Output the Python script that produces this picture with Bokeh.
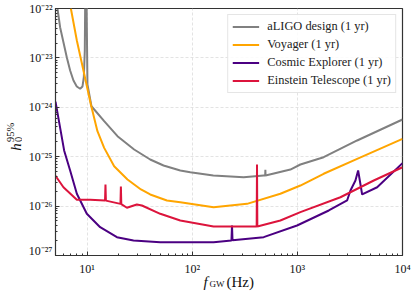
import math
from bokeh.plotting import figure
from bokeh.layouts import column, row
from bokeh.models import (Range1d, FixedTicker, CustomJSTickFormatter, Legend,
                          LegendItem, Label)
from bokeh.core.properties import value
from bokeh.embed import file_html
from bokeh.resources import INLINE

# ---------------- data ----------------
aligo_f = [5.0, 5.22, 5.53, 5.95, 6.40, 6.89, 7.41, 7.97, 8.58, 9.03, 9.30, 9.50,
           9.57, 9.65, 9.80, 9.89, 10.07, 10.99, 14.52, 19.44, 28.0, 39.8, 53.3,
           76.9, 95.7, 158.5, 308, 478, 494, 496, 498, 858, 1068, 1778, 3704, 10000]
aligo_h = [1.9e-22, 1e-22, 4.19e-23, 2.08e-23, 1.03e-23, 5.56e-24, 3.49e-24, 2.64e-24,
           2.37e-24, 2.64e-24, 4.06e-24, 1.41e-23, 1e-22, 1e-21, 1e-21, 1e-22,
           2.90e-24, 1.05e-24, 5.24e-25, 2.60e-25, 1.40e-25, 8.77e-26, 6.64e-26,
           5.26e-26, 4.86e-26, 4.16e-26, 3.85e-26, 4.16e-26, 4.17e-26, 5.43e-26,
           4.18e-26, 5.5e-26, 6.95e-26, 9.77e-26, 2.13e-25, 5.66e-25]

voyager_f = [7.0, 7.98, 9.22, 10.85, 12.53, 14.52, 18.07, 24.2, 32.5, 39.8, 57.4,
             76.9, 159.5, 332, 689, 1068, 1778, 3704, 10000]
voyager_h = [1e-22, 2.25e-23, 5.56e-24, 1.14e-24, 3.28e-25, 1.51e-25, 6.43e-26,
             3.45e-26, 2.17e-26, 1.72e-26, 1.30e-26, 1.20e-26, 9.5e-27, 1.11e-26,
             1.78e-26, 2.61e-26, 4.51e-26, 9.06e-26, 2.30e-25]

ce_f = [5.0, 6.04, 6.89, 7.98, 9.93, 13.3, 19.2, 27.6, 49.6, 76.9, 159.5, 236,
        238.8, 241.5, 478, 993, 1990, 2972, 3198, 3567, 3784, 4132, 5741, 10000]
ce_h = [1.3e-24, 1.34e-25, 5.26e-26, 1.78e-26, 6.98e-27, 3.74e-27, 2.35e-27,
        2.01e-27, 1.86e-27, 1.86e-27, 1.86e-27, 2.02e-27, 4.05e-27, 2.03e-27,
        2.35e-27, 4.05e-27, 8.15e-27, 1.30e-26, 2.07e-26, 3.3e-26, 5.26e-26,
        1.72e-26, 2.41e-26, 7.38e-26]

et_f = [5.0, 5.95, 7.98, 10.68, 14.8, 14.94, 15.08, 20.75, 20.94, 21.13, 23.9,
        29.7, 33.2, 49.6, 76.9, 159.5, 410, 413, 416, 689, 1068, 2568, 5330, 10000]
et_h = [4.1e-26, 2.41e-26, 1.34e-26, 1.34e-26, 1.30e-26, 2.73e-26, 1.29e-26,
        1.11e-26, 2.5e-26, 1.10e-26, 9.25e-27, 1.08e-26, 1.03e-26, 6.98e-27,
        5.12e-27, 3.86e-27, 3.86e-27, 6.95e-26, 3.86e-27, 5.12e-27, 7.54e-27,
        1.51e-26, 3.3e-26, 6.12e-26]

series_names = ["aLIGO design (1 yr)", "Voyager (1 yr)",
                "Cosmic Explorer (1 yr)", "Einstein Telescope (1 yr)"]
series_colors = ["#808080", "#FFA500", "#4B0082", "#DC143C"]

x_ticks = [1e1, 1e2, 1e3, 1e4]
x_tick_labels = ["10¹", "10²", "10³", "10⁴"]
y_ticks = [1e-27, 1e-26, 1e-25, 1e-24, 1e-23, 1e-22]
y_tick_labels = ["10⁻²⁷", "10⁻²⁶", "10⁻²⁵", "10⁻²⁴", "10⁻²³", "10⁻²²"]

X_MIN, X_MAX = 5, 1e4
Y_MIN, Y_MAX = 1e-27, 1e-22

FONT = "Liberation Serif"
TXT = "#111111"

# ---------------- geometry ----------------
TOTAL_W, TOTAL_H = 415, 291
YSTRIP_W = 22
MAIN_H = 257
BL, BR, BT, BB = 33, 13, 8, 2          # borders of the main figure
MAIN_W = TOTAL_W - YSTRIP_W
FRAME_W = MAIN_W - BL - BR
XSTRIP_H = TOTAL_H - MAIN_H

# ---------------- main figure ----------------
p = figure(width=MAIN_W, height=MAIN_H, x_axis_type="log", y_axis_type="log",
           x_range=Range1d(X_MIN, X_MAX), y_range=Range1d(Y_MIN, Y_MAX),
           output_backend="svg", toolbar_location=None,
           min_border_left=BL, min_border_right=BR, min_border_top=BT,
           min_border_bottom=BB)

x_minor = [m * 10 ** e for e in range(0, 4) for m in range(2, 10) if X_MIN <= m * 10 ** e <= X_MAX]
y_minor = [m * 10.0 ** e for e in range(-27, -22) for m in range(2, 10)]
p.xaxis.ticker = FixedTicker(ticks=x_ticks, minor_ticks=x_minor)
p.yaxis.ticker = FixedTicker(ticks=y_ticks, minor_ticks=y_minor)

fmt_code = """
const lt = Math.log10(tick);
for (let i = 0; i < vals.length; i++) {
  if (Math.abs(Math.log10(vals[i]) - lt) < 1e-6) return labs[i];
}
return '';
"""
p.yaxis.formatter = CustomJSTickFormatter(args=dict(vals=y_ticks, labs=y_tick_labels), code=fmt_code)

for ax in (p.xaxis, p.yaxis):
    ax.major_label_text_font = FONT
    ax.major_label_text_color = TXT
    ax.major_tick_in = 4
    ax.major_tick_out = 0
    ax.minor_tick_in = 2
    ax.minor_tick_out = 0
    ax.axis_line_color = "#333333"
    ax.major_tick_line_color = "#333333"
    ax.minor_tick_line_color = "#333333"
p.yaxis.major_label_text_font_size = "12px"
p.yaxis.major_label_standoff = 3
# x tick labels are drawn in the strip below (so the axis title can sit close)
p.xaxis.major_label_text_font_size = "1px"
p.xaxis.major_label_text_alpha = 0
p.xaxis.major_label_standoff = 0

p.outline_line_color = "#333333"
p.outline_line_width = 1.2
p.grid.grid_line_color = "#dcdcdc"
p.grid.grid_line_dash = "3 2"
p.grid.grid_line_width = 0.8

renderers = []
for fx, hy, col in ((aligo_f, aligo_h, series_colors[0]),
                    (voyager_f, voyager_h, series_colors[1]),
                    (ce_f, ce_h, series_colors[2]),
                    (et_f, et_h, series_colors[3])):
    renderers.append(p.line(fx, hy, line_color=col, line_width=2))

legend = Legend(items=[LegendItem(label=n, renderers=[r]) for n, r in zip(series_names, renderers)],
                location="top_right")
legend.label_text_font = FONT
legend.label_text_font_size = "12.4px"
legend.label_text_color = "#222222"
legend.glyph_width = 27
legend.glyph_height = 13
legend.label_height = 13
legend.spacing = 3
legend.padding = 4
legend.margin = 6
legend.label_standoff = 8
legend.border_line_color = "#cccccc"
legend.border_line_width = 1
legend.background_fill_alpha = 0.85
p.add_layout(legend)

# ---------------- strips holding tick labels / axis titles ----------------
def strip(w, h, xr, yr, x_type="linear"):
    f = figure(width=w, height=h, x_range=xr, y_range=yr, x_axis_type=x_type,
               output_backend="svg", toolbar_location=None, min_border=0,
               x_axis_location=None, y_axis_location=None)
    f.outline_line_color = None
    f.grid.visible = False
    return f

# left strip: y axis title  h_0^{95%}   (data units = pixels from bottom-left)
yfig = strip(YSTRIP_W, MAIN_H, Range1d(0, YSTRIP_W), Range1d(0, MAIN_H))
ycommon = dict(x_units="data", y_units="data", text_font=FONT, text_color=TXT,
               text_baseline="alphabetic", text_align="left", angle=math.pi / 2)
yfig.add_layout(Label(x=15, y=MAIN_H - 148, text="h", text_font_style="italic",
                      text_font_size="15px", **ycommon))
yfig.add_layout(Label(x=17.5, y=MAIN_H - 139, text="0", text_font_size="10.5px", **ycommon))
yfig.add_layout(Label(x=10, y=MAIN_H - 139, text="95%", text_font_size="10.5px", **ycommon))

# bottom strip: shares the log x mapping of the main frame, extended to the strip edges
k = (math.log10(X_MAX) - math.log10(X_MIN)) / FRAME_W
frame_left = YSTRIP_W + BL
xs_lo = 10 ** (math.log10(X_MIN) - frame_left * k)
xs_hi = 10 ** (math.log10(X_MAX) + (TOTAL_W - frame_left - FRAME_W) * k)
xfig = strip(TOTAL_W, XSTRIP_H, Range1d(xs_lo, xs_hi), Range1d(0, XSTRIP_H), x_type="log")
xfig.text(x=x_ticks, y=XSTRIP_H - 11, text=x_tick_labels, text_font=value(FONT),
          text_font_size="12px", text_color=TXT, text_align="center",
          text_baseline="alphabetic")

xcommon = dict(x_units="screen", y_units="data", text_font=FONT, text_color=TXT,
               text_baseline="alphabetic", text_align="left")
xfig.add_layout(Label(x=203, y=10, text="f", text_font_style="italic",
                      text_font_size="15px", **xcommon))
xfig.add_layout(Label(x=209, y=7.5, text="GW", text_font_size="9px", **xcommon))
xfig.add_layout(Label(x=226, y=10, text="(Hz)", text_font_size="15px", **xcommon))

layout = column(row(yfig, p), xfig)

open("out.html", "w").write(file_html(layout, INLINE))
